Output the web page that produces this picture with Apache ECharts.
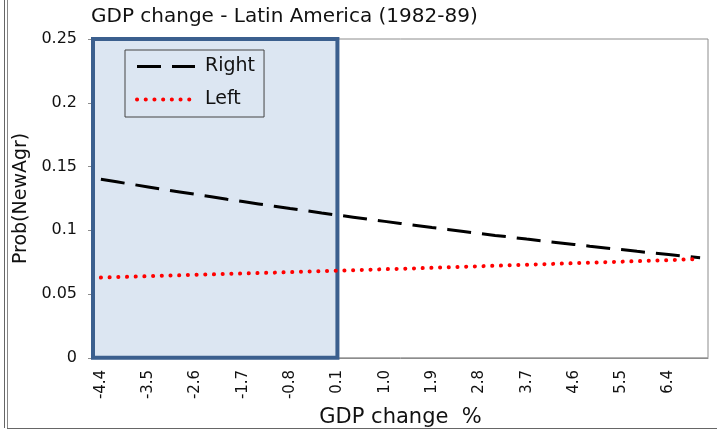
<!DOCTYPE html>
<html><head><meta charset="utf-8">
<script src="https://cdn.jsdelivr.net/npm/echarts@6/dist/echarts.min.js"></script>
<style>html,body{margin:0;padding:0;background:#fff}#c{width:717px;height:433px}</style>
</head><body><div id="c"></div>
<script>
// GDP change categories (%), step 0.3
const categories = ['-4.4','-4.1','-3.8','-3.5','-3.2','-2.9','-2.6','-2.3','-2.0','-1.7','-1.4','-1.1','-0.8','-0.5','-0.2','0.1','0.4','0.7','1.0','1.3','1.6','1.9','2.2','2.5','2.8','3.1','3.4','3.7','4.0','4.3','4.6','4.9','5.2','5.5','5.8','6.1','6.4','6.7','7.0'];
const rightValues = [0.1400,0.1380,0.1360,0.1340,0.1320,0.1301,0.1282,0.1263,0.1243,0.1225,0.1207,0.1189,0.1171,0.1154,0.1136,0.1119,0.1103,0.1086,0.1070,0.1054,0.1038,0.1022,0.1007,0.0991,0.0975,0.0960,0.0946,0.0931,0.0917,0.0903,0.0889,0.0875,0.0862,0.0849,0.0835,0.0822,0.0810,0.0797,0.0785];
const leftValues = [0.0629,0.0633,0.0636,0.0640,0.0644,0.0647,0.0651,0.0654,0.0658,0.0661,0.0665,0.0668,0.0672,0.0676,0.0680,0.0683,0.0687,0.0691,0.0695,0.0698,0.0702,0.0706,0.0710,0.0714,0.0718,0.0722,0.0726,0.0730,0.0734,0.0738,0.0742,0.0746,0.0750,0.0754,0.0758,0.0762,0.0766,0.0771,0.0775];
const shadeEnd = '0.1';
const yTicks = {min: 0, max: 0.25, interval: 0.05};

const font = '"DejaVu Sans", sans-serif';
const rightLine = {color: '#000', width: 3, type: [24, 11]};
const leftLine = {color: '#ff0000', width: 4, type: [0.1, 8.6], cap: 'round'};
const chart = echarts.init(document.getElementById('c'));
chart.setOption({
  animation: false,
  textStyle: {fontFamily: font},
  title: {text: 'GDP change - Latin America (1982-89)', left: 86, top: 2,
    textStyle: {fontFamily: font, fontSize: 20, fontWeight: 'normal', color: '#111'}},
  grid: {left: 93, right: 9, top: 39, bottom: 75, show: true, borderColor: '#8c8c8c', borderWidth: 1},
  legend: {
    orient: 'vertical', left: 125, top: 50, padding: [7, 9, 8, 10], itemGap: 14,
    itemWidth: 58, itemHeight: 14, borderColor: '#444', borderWidth: 1,
    itemStyle: {opacity: 0},
    textStyle: {fontFamily: font, fontSize: 19, color: '#111', padding: [0, 0, 0, 5]},
    data: [
      {name: 'Right', lineStyle: {width: 3, type: [24, 11], color: '#000'}},
      {name: 'Left', lineStyle: {width: 4, type: [0.1, 8.6], cap: 'round', color: '#ff0000'}}
    ]
  },
  xAxis: {
    type: 'category', data: categories, boundaryGap: true,
    name: 'GDP change  %', nameLocation: 'middle', nameGap: 48,
    nameTextStyle: {fontFamily: font, fontSize: 21, color: '#111', verticalAlign: 'top'},
    axisLine: {lineStyle: {color: '#8c8c8c', width: 1}},
    axisTick: {interval: 0, length: 5, lineStyle: {color: '#8c8c8c'}},
    axisLabel: {interval: 2, rotate: 90, fontSize: 15, color: '#111', margin: 12, fontFamily: font},
    splitLine: {show: false}
  },
  yAxis: {
    type: 'value', min: yTicks.min, max: yTicks.max, interval: yTicks.interval,
    name: 'Prob(NewAgr)', nameLocation: 'middle', nameGap: 59,
    nameTextStyle: {fontFamily: font, fontSize: 19, color: '#111'},
    axisLine: {show: true, lineStyle: {color: '#8c8c8c', width: 1}},
    axisTick: {show: true, length: 5, lineStyle: {color: '#8c8c8c'}},
    axisLabel: {fontSize: 16, color: '#111', margin: 16, fontFamily: font},
    splitLine: {show: false}
  },
  graphic: [
    {type: 'line', shape: {x1: 4.5, y1: 0, x2: 4.5, y2: 428}, style: {stroke: '#666', lineWidth: 1}},
    {type: 'line', shape: {x1: 7.5, y1: 0, x2: 7.5, y2: 428}, style: {stroke: '#888', lineWidth: 1}},
    {type: 'line', shape: {x1: 7, y1: 428.5, x2: 717, y2: 428.5}, style: {stroke: '#666', lineWidth: 1}}
  ],
  series: [
    {
      name: 'Right', type: 'line', data: rightValues, symbol: 'none', z: 3,
      lineStyle: rightLine,
      itemStyle: {color: '#000'},
      markArea: {
        silent: true, z: 1,
        itemStyle: {color: '#dce6f2', borderColor: '#3b5f8e', borderWidth: 4},
        data: [[{xAxis: -Infinity}, {xAxis: shadeEnd}]]
      }
    },
    {
      name: 'Left', type: 'line', data: leftValues, symbol: 'none', z: 3,
      lineStyle: leftLine,
      itemStyle: {color: '#ff0000'}
    }
  ]
});
</script></body></html>
